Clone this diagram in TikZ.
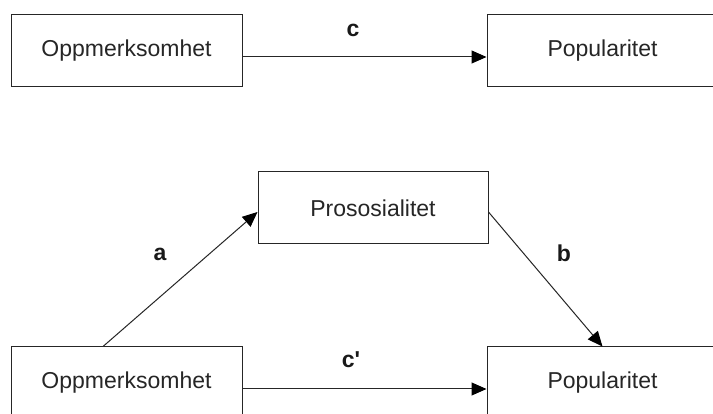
\documentclass[tikz,border=0pt]{standalone}
\usepackage{fontspec}
\setmainfont{Liberation Sans}
\newfontfamily\lblfont[Ligatures=TeXOff]{Liberation Sans}
\usetikzlibrary{arrows.meta}
\begin{document}
\begin{tikzpicture}[x=1pt,y=-1pt,
  varbox/.style={draw=black!85, line width=1pt, minimum width=231pt, minimum height=72pt,
    inner sep=0pt, font=\fontsize{23}{27}\selectfont, text=black!85},
  pathlbl/.style={font=\lblfont\bfseries\fontsize{23}{27}\selectfont, inner sep=0pt, text=black!90},
  conn/.style={draw=black!85, line width=1pt, -{Triangle[length=15pt,width=13pt,color=black]}}]
  \useasboundingbox (0,0) rectangle (713,414);
  \clip (0,0) rectangle (713,414);
  \fill[white] (0,0) rectangle (713,414);
  % top model
  \node[varbox] (tl) at (126.5,51) {Oppmerksomhet};
  \node[varbox] (tr) at (602.5,51) {Popularitet};
  \draw[conn] ([yshift=-6pt]tl.east) -- ([yshift=-6pt]tr.west);
  \node[pathlbl] (lc) at (353,30) {c};
  % mediation model
  \node[varbox, minimum width=230pt] (p) at (373,208) {Prososialitet};
  \node[varbox] (bl) at (126.5,383) {Oppmerksomhet};
  \node[varbox] (br) at (602.5,383) {Popularitet};
  \draw[conn] ([xshift=-23.5pt]bl.north) -- ([yshift=-4pt]p.west);
  \draw[conn] ([yshift=-4pt]p.east) -- (br.north);
  \draw[conn] ([yshift=-6pt]bl.east) -- ([yshift=-6pt]br.west);
  \node[pathlbl] (la) at (160,254) {a};
  \node[pathlbl] (lb) at (564,253) {b};
  \node[pathlbl] (lcp) at (351,360) {c'};
\end{tikzpicture}
\end{document}
